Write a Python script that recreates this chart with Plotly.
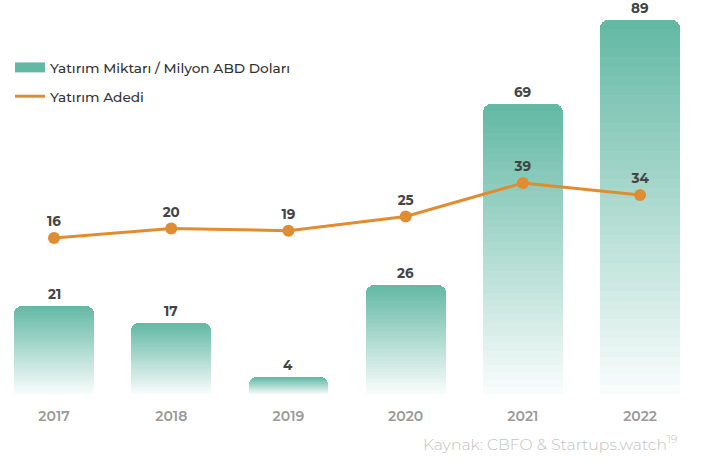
import plotly.graph_objects as go

years = ["2017", "2018", "2019", "2020", "2021", "2022"]
amount = [21, 17, 4, 26, 69, 89]      # Yatırım Miktarı / Milyon ABD Doları
count = [16, 20, 19, 25, 39, 34]      # Yatırım Adedi

TEAL_TOP = (98, 184, 164)
TEAL_BOTTOM = (250, 253, 252)
ORANGE = "#e08c30"
N = 40
FONT = "Montserrat, Open Sans, sans-serif"

fig = go.Figure()

def mix(t):
    r = [round(TEAL_BOTTOM[k] + t * (TEAL_TOP[k] - TEAL_BOTTOM[k])) for k in range(3)]
    return f"rgb({r[0]},{r[1]},{r[2]})"

for i in range(N):
    t = (i + 0.5) / N
    fig.add_trace(go.Bar(
        x=years, y=[v / N for v in amount], width=0.68,
        marker=dict(color=mix(t), line=dict(width=0)),
        showlegend=False, hoverinfo="skip",
    ))

# line
fig.add_trace(go.Scatter(
    x=years, y=count, mode="lines+markers+text", yaxis="y2",
    line=dict(color=ORANGE, width=3),
    marker=dict(color=ORANGE, size=12),
    text=[str(v) for v in count], textposition="top center",
    textfont=dict(family=FONT, size=13.5, color="#444444", weight="bold"),
    showlegend=False, cliponaxis=False,
))

# legend entries
fig.add_trace(go.Scatter(x=[None], y=[None], mode="lines", name="Yatırım Miktarı / Milyon ABD Doları",
                         line=dict(color=mix(1.0), width=12), legendgroup="a"))
fig.add_trace(go.Scatter(x=[None], y=[None], mode="lines", name="Yatırım Adedi",
                         line=dict(color=ORANGE, width=3), yaxis="y2", legendgroup="b"))

annotations = [dict(
    x=i, y=v, xref="x", yref="y", text=str(v), showarrow=False,
    yanchor="bottom", yshift=2,
    font=dict(family=FONT, size=13.5, color="#444444", weight="bold"),
) for i, v in enumerate(amount)]

annotations.append(dict(
    text="Kaynak: CBFO & Startups.watch<sup>19</sup>",
    xref="paper", yref="paper", x=680 / 705, y=-0.131, xanchor="right", yanchor="middle",
    showarrow=False, font=dict(family=FONT, size=15.7, color="#c2c2c2", weight=300),
))

fig.update_layout(
    width=705, height=461,
    margin=dict(l=0, r=0, t=20, b=67),
    paper_bgcolor="white", plot_bgcolor="white",
    barmode="stack", bargap=0, barcornerradius=8,
    font=dict(family=FONT),
    xaxis=dict(type="category", range=[-0.461, 5.554], showgrid=False, zeroline=False,
               showline=False, ticks="", ticklabelstandoff=12,
               tickfont=dict(size=14, color="#9a9a9a", weight=600)),
    yaxis=dict(range=[0, 89], visible=False),
    yaxis2=dict(range=[-49.3, 107.2], overlaying="y", visible=False),
    legend=dict(x=10 / 705, y=(394 - 52) / 374, xanchor="left", yanchor="top",
                font=dict(family=FONT, size=13.7, color="#333333", weight=500), tracegroupgap=8,
                bgcolor="rgba(0,0,0,0)", traceorder="grouped", itemwidth=30),
    annotations=annotations,
)

fig.write_html("out.html", config={"displayModeBar": False},
               post_script="document.body.style.margin='0';")
